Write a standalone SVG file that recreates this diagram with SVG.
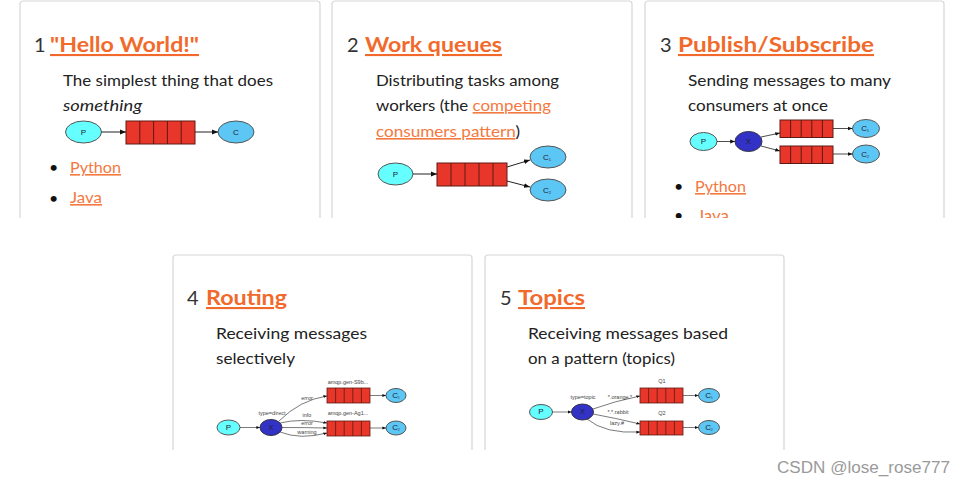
<svg xmlns="http://www.w3.org/2000/svg" width="965" height="486" viewBox="0 0 965 486">
<defs>
<style>
.card{fill:#fff;stroke:#d6d6d6;stroke-width:1.2}
.num{font-family:Lato,"Open Sans",sans-serif;font-size:20px;fill:#333}
.ttl{font-family:Lato,"Open Sans",sans-serif;font-size:21px;font-weight:700;fill:#f26a2b;text-decoration:underline}
.desc{font-family:Lato,"Open Sans",sans-serif;font-size:16px;fill:#222}
.it{font-style:italic}
.link{fill:#f4793f;text-decoration:underline}
.bul{font-family:Lato,sans-serif;font-size:16px;fill:#111}
.p{fill:#66ffff;stroke:#555}
.c{fill:#5cc6f4;stroke:#555}
.x{fill:#3232c6;stroke:#334}
.q{fill:#e8362a;stroke:#5e1a12}
.qd{stroke:#5e1a12;fill:none}
.e{stroke:#222;fill:none;marker-end:url(#ah)}
.lbl{font-family:"Liberation Sans",Arial,sans-serif;font-size:5.5px;fill:#444;text-anchor:middle}
.nl{font-family:"Liberation Sans",Arial,sans-serif;font-size:8px;text-anchor:middle;fill:#223}
.wm{font-family:"Liberation Sans",Arial,sans-serif;font-size:16px;fill:#9a9a9a}
</style>
<marker id="ah" viewBox="0 0 10 10" refX="10" refY="5" markerWidth="6" markerHeight="6" orient="auto" markerUnits="strokeWidth">
<path d="M0,1 L10,5 L0,9 z" fill="#111"/>
</marker>
<clipPath id="top"><rect x="0" y="0" width="965" height="218"/></clipPath>
</defs>

<rect width="965" height="486" fill="#fff"/>

<g id="card1">
<path class="card" d="M20,218 V4 a3,3 0 0 1 3,-3 H317 a3,3 0 0 1 3,3 V218"/>
<text class="num" x="34" y="52">1</text>
<text class="ttl" x="50" y="52" textLength="149" lengthAdjust="spacingAndGlyphs">"Hello World!"</text>
<text class="desc" x="63" y="86" textLength="210" lengthAdjust="spacingAndGlyphs">The simplest thing that does</text>
<text class="desc it" x="63" y="111" textLength="79" lengthAdjust="spacingAndGlyphs">something</text>
<g id="n1-p"><ellipse class="p" cx="83.5" cy="132" rx="18" ry="11"/><text class="nl" x="83.5" y="135">P</text></g>
<g id="n1-q"><rect class="q" x="126" y="121" width="69" height="23"/><path class="qd" d="M139.8,121V144M153.6,121V144M167.4,121V144M181.2,121V144"/></g>
<g id="n1-c"><ellipse class="c" cx="236" cy="132" rx="18" ry="11"/><text class="nl" x="236" y="135">C</text></g>
<text class="bul" x="49" y="173">•</text>
<text class="desc link" x="70" y="173" textLength="51" lengthAdjust="spacingAndGlyphs">Python</text>
<text class="bul" x="49" y="204">•</text>
<text class="desc link" x="70" y="203" textLength="32" lengthAdjust="spacingAndGlyphs">Java</text>
</g>

<g id="card2">
<path class="card" d="M332,218 V4 a3,3 0 0 1 3,-3 H629 a3,3 0 0 1 3,3 V218"/>
<text class="num" x="347" y="52">2</text>
<text class="ttl" x="365" y="52" textLength="137" lengthAdjust="spacingAndGlyphs">Work queues</text>
<text class="desc" x="376" y="86" textLength="183" lengthAdjust="spacingAndGlyphs">Distributing tasks among</text>
<text class="desc" x="376" y="111" textLength="175" lengthAdjust="spacingAndGlyphs">workers (the <tspan class="link">competing</tspan></text>
<text class="desc" x="376" y="137" textLength="144" lengthAdjust="spacingAndGlyphs"><tspan class="link">consumers pattern</tspan>)</text>
<g id="n2-p"><ellipse class="p" cx="395.5" cy="174" rx="17.5" ry="11"/><text class="nl" x="395.5" y="177">P</text></g>
<g id="n2-q"><rect class="q" x="437" y="163" width="70" height="23"/><path class="qd" d="M451,163V186M465,163V186M479,163V186M493,163V186"/></g>
<g id="n2-c1"><ellipse class="c" cx="548" cy="157" rx="18" ry="11"/><text class="nl" x="547" y="160">C<tspan font-size="4" dy="1">1</tspan></text></g>
<g id="n2-c2"><ellipse class="c" cx="548" cy="190" rx="18" ry="11"/><text class="nl" x="547" y="193">C<tspan font-size="4" dy="1">2</tspan></text></g>
</g>

<g id="card3">
<path class="card" d="M645,218 V4 a3,3 0 0 1 3,-3 H941 a3,3 0 0 1 3,3 V218"/>
<text class="num" x="660" y="52">3</text>
<text class="ttl" x="678" y="52" textLength="196" lengthAdjust="spacingAndGlyphs">Publish/Subscribe</text>
<text class="desc" x="688" y="86" textLength="203" lengthAdjust="spacingAndGlyphs">Sending messages to many</text>
<text class="desc" x="688" y="111" textLength="140" lengthAdjust="spacingAndGlyphs">consumers at once</text>
<g id="n3-p"><ellipse class="p" cx="703.5" cy="141.5" rx="13.5" ry="9"/><text class="nl" x="703.5" y="144" font-size="6">P</text></g>
<g id="n3-x"><ellipse class="x" cx="748.5" cy="141.5" rx="13.5" ry="10"/><text class="nl" x="748.5" y="144" font-size="6">X</text></g>
<g id="n3-q1"><rect class="q" x="780" y="120" width="53" height="17.5"/><path class="qd" d="M790.6,120V137.5M801.2,120V137.5M811.8,120V137.5M822.4,120V137.5"/></g>
<g id="n3-q2"><rect class="q" x="780" y="146" width="53" height="17.5"/><path class="qd" d="M790.6,146V163.5M801.2,146V163.5M811.8,146V163.5M822.4,146V163.5"/></g>
<g id="n3-c1"><ellipse class="c" cx="866" cy="128.5" rx="13.5" ry="9"/><text class="nl" x="865" y="131" font-size="6">C<tspan font-size="3.5" dy="1">1</tspan></text></g>
<g id="n3-c2"><ellipse class="c" cx="866" cy="154" rx="13.5" ry="9"/><text class="nl" x="865" y="156.5" font-size="6">C<tspan font-size="3.5" dy="1">2</tspan></text></g>
<text class="bul" x="674" y="192">•</text>
<text class="desc link" x="695" y="192" textLength="51" lengthAdjust="spacingAndGlyphs">Python</text>
<g clip-path="url(#top)">
<text class="bul" x="674" y="221">•</text>
<text class="desc link" x="697" y="221" textLength="32" lengthAdjust="spacingAndGlyphs">Java</text>
</g>
</g>

<g id="card4">
<path class="card" d="M173,450 V258 a3,3 0 0 1 3,-3 H469 a3,3 0 0 1 3,3 V450"/>
<text class="num" x="187" y="305">4</text>
<text class="ttl" x="206" y="305" textLength="81" lengthAdjust="spacingAndGlyphs">Routing</text>
<text class="desc" x="216" y="339" textLength="151" lengthAdjust="spacingAndGlyphs">Receiving messages</text>
<text class="desc" x="216" y="364" textLength="79" lengthAdjust="spacingAndGlyphs">selectively</text>
<g id="n4-p"><ellipse class="p" cx="228.5" cy="427.5" rx="11.5" ry="7.5"/><text class="nl" x="228.5" y="429.5" font-size="5">P</text></g>
<g id="n4-x"><ellipse class="x" cx="271" cy="427.5" rx="11" ry="8"/><text class="nl" x="271" y="429.5" font-size="5">X</text></g>
<g id="n4-q1"><rect class="q" x="327" y="388" width="43" height="15" stroke-width="0.8"/><path class="qd" stroke-width="0.8" d="M335.6,388V403M344.2,388V403M352.8,388V403M361.4,388V403"/></g>
<g id="n4-q2"><rect class="q" x="327" y="421" width="43" height="15" stroke-width="0.8"/><path class="qd" stroke-width="0.8" d="M335.6,421V436M344.2,421V436M352.8,421V436M361.4,421V436"/></g>
<g id="n4-c1"><ellipse class="c" cx="396" cy="395.5" rx="10" ry="7"/><text class="nl" x="396" y="397.5" font-size="5">C<tspan font-size="3" dy="1">1</tspan></text></g>
<g id="n4-c2"><ellipse class="c" cx="396" cy="428" rx="10" ry="7"/><text class="nl" x="396" y="430" font-size="5">C<tspan font-size="3" dy="1">2</tspan></text></g>
<text class="lbl" x="348" y="384">amqp.gen-S9b...</text>
<text class="lbl" x="348" y="415">amqp.gen-Ag1...</text>
<text class="lbl" x="272" y="415">type=direct</text>
<text class="lbl" x="307" y="400">error</text>
<text class="lbl" x="307" y="417">info</text>
<text class="lbl" x="307" y="425">error</text>
<text class="lbl" x="307" y="434">warning</text>
</g>

<g id="card5">
<path class="card" d="M485,450 V258 a3,3 0 0 1 3,-3 H781 a3,3 0 0 1 3,3 V450"/>
<text class="num" x="500" y="305">5</text>
<text class="ttl" x="518" y="305" textLength="67" lengthAdjust="spacingAndGlyphs">Topics</text>
<text class="desc" x="528" y="339" textLength="200" lengthAdjust="spacingAndGlyphs">Receiving messages based</text>
<text class="desc" x="528" y="364" textLength="147" lengthAdjust="spacingAndGlyphs">on a pattern (topics)</text>
<g id="n5-p"><ellipse class="p" cx="541" cy="412" rx="11.5" ry="7.5"/><text class="nl" x="541" y="414" font-size="5">P</text></g>
<g id="n5-x"><ellipse class="x" cx="582.5" cy="412" rx="11" ry="8"/><text class="nl" x="582.5" y="414" font-size="5">X</text></g>
<g id="n5-q1"><rect class="q" x="640" y="388" width="43" height="15" stroke-width="0.8"/><path class="qd" stroke-width="0.8" d="M648.6,388V403M657.2,388V403M665.8,388V403M674.4,388V403"/></g>
<g id="n5-q2"><rect class="q" x="640" y="421" width="43" height="14" stroke-width="0.8"/><path class="qd" stroke-width="0.8" d="M648.6,421V435M657.2,421V435M665.8,421V435M674.4,421V435"/></g>
<g id="n5-c1"><ellipse class="c" cx="709" cy="395.5" rx="10.5" ry="7"/><text class="nl" x="709" y="397.5" font-size="5">C<tspan font-size="3" dy="1">1</tspan></text></g>
<g id="n5-c2"><ellipse class="c" cx="709" cy="427.5" rx="10.5" ry="7"/><text class="nl" x="709" y="429.5" font-size="5">C<tspan font-size="3" dy="1">2</tspan></text></g>
<text class="lbl" x="662" y="383">Q1</text>
<text class="lbl" x="662" y="415">Q2</text>
<text class="lbl" x="583" y="399">type=topic</text>
<text class="lbl" x="620" y="399">*.orange.*</text>
<text class="lbl" x="618" y="414">*.*.rabbit</text>
<text class="lbl" x="617" y="425">lazy.#</text>
</g>

<g id="connectors">
<path class="e" d="M101.5,132 H126"/>
<path class="e" d="M195,132 H218"/>
<path class="e" d="M413,174 H437"/>
<path class="e" d="M507,167 L530,160"/>
<path class="e" d="M507,181 L530,187"/>
<path class="e" stroke-width="0.8" d="M717,141.5 H735"/>
<path class="e" stroke-width="0.8" d="M761,137 L780,133"/>
<path class="e" stroke-width="0.8" d="M761,146 L780,151"/>
<path class="e" stroke-width="0.8" d="M833,128.5 H852.5"/>
<path class="e" stroke-width="0.8" d="M833,154 H852.5"/>
<path class="e" stroke-width="0.6" d="M240,427.5 H260"/>
<path class="e" stroke-width="0.6" d="M279,421 Q300,400 327,396"/>
<path class="e" stroke-width="0.6" d="M280,423 Q300,418 327,423"/>
<path class="e" stroke-width="0.6" d="M282,427.5 Q305,427.5 327,428"/>
<path class="e" stroke-width="0.6" d="M280,432 Q300,440 327,433"/>
<path class="e" stroke-width="0.6" d="M370,395.5 H386"/>
<path class="e" stroke-width="0.6" d="M370,428 H386"/>
<path class="e" stroke-width="0.6" d="M552.5,412 H571.5"/>
<path class="e" stroke-width="0.6" d="M593,409 Q615,401 640,396"/>
<path class="e" stroke-width="0.6" d="M593,414 Q615,418 640,424"/>
<path class="e" stroke-width="0.6" d="M587,419 Q605,434 640,432"/>
<path class="e" stroke-width="0.6" d="M683,395.5 H698.5"/>
<path class="e" stroke-width="0.6" d="M683,427.5 H698.5"/>
</g>

<text class="wm" x="777" y="473" textLength="173" lengthAdjust="spacingAndGlyphs">CSDN @lose_rose777</text>
</svg>
